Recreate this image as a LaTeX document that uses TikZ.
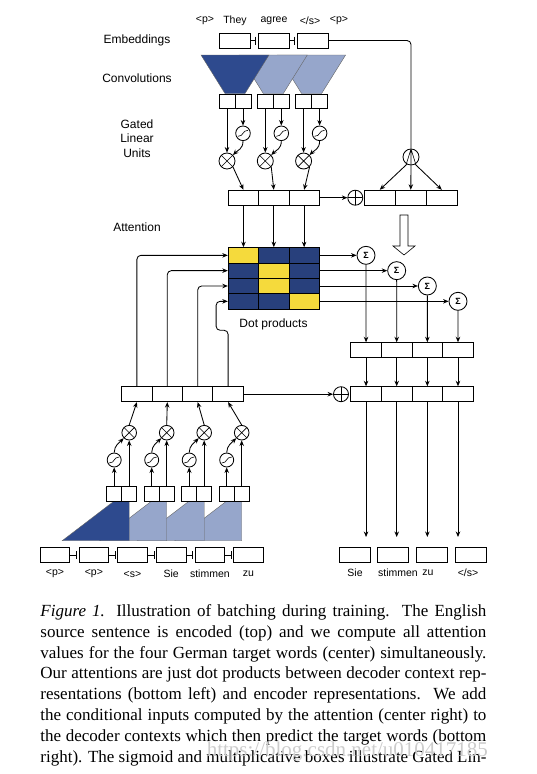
\documentclass[tikz,border=0pt]{standalone}
\usepackage{fontspec}
\setmainfont{Liberation Sans}
\newfontfamily\capfont{Liberation Serif}
\usetikzlibrary{arrows.meta}

\definecolor{convdark}{RGB}{46,74,142}
\definecolor{convlight}{RGB}{150,166,203}
\definecolor{dotblue}{RGB}{40,64,124}
\definecolor{dotyellow}{RGB}{245,218,60}

\begin{document}
\begin{tikzpicture}[x=1pt, y=-1pt, >={Stealth[length=5.5pt,width=4.5pt]}, line width=0.85pt,
  every node/.style={font=\fontsize{12}{14.5}\selectfont},
  tok/.style={font=\fontsize{10.5}{12}\selectfont},
  cell/.style={draw, fill=white, inner sep=0pt, minimum height=15pt},
  link/.style={-{Bar[width=8pt]}, shorten >=1.5pt},
  opc/.style={draw, circle, fill=white, inner sep=0pt, minimum size=15pt},
  mulc/.style={opc, path picture={\draw[line width=0.6pt] (path picture bounding box.north west) -- (path picture bounding box.south east) (path picture bounding box.north east) -- (path picture bounding box.south west);}},
  addc/.style={opc, path picture={\draw[line width=0.6pt] (path picture bounding box.north) -- (path picture bounding box.south) (path picture bounding box.west) -- (path picture bounding box.east);}},
  sigc/.style={opc, path picture={\draw[line width=0.6pt] ([shift={(-5pt,-3pt)}]path picture bounding box.center) .. controls +(6pt,0pt) and +(-6pt,0pt) .. ([shift={(5pt,3pt)}]path picture bounding box.center);}},
  fanc/.style={opc, path picture={\draw[line width=0.6pt] (path picture bounding box.north) -- ([xshift=-5pt]path picture bounding box.south) (path picture bounding box.north) -- (path picture bounding box.south) (path picture bounding box.north) -- ([xshift=5pt]path picture bounding box.south);}},
  sumc/.style={opc, minimum size=18pt, font=\fontsize{9}{10}\selectfont\bfseries}]
\fill[white] (0,0) rectangle (536,774);
\useasboundingbox (0,0) rectangle (536,774);

% labels on the left
\node (lemb) at (137,40.5) {Embeddings};
\node (lconv) at (137,78) {Convolutions};
\node[align=center] (lglu) at (137,138.5) {Gated\\Linear\\Units};
\node (latt) at (137,227) {Attention};

% source sentence
\foreach \x/\t [count=\i] in {205/{<p>},235/They,274/agree,310/{</s>},339/{<p>}}
  \node[tok] (stok\i) at (\x,21) {\t};
\foreach \i in {1,2,3}
  \node[cell, minimum width=31pt] (emb\i) at (234.5+39*\i-39,40.5) {};
\draw[link] (emb1.east) -- (emb2.west);
\draw[link] (emb2.east) -- (emb3.west);

% encoder convolutions
\foreach \c/\col in {311.6/convlight,273.3/convlight,235/convdark}
  \filldraw[fill=\col, draw=black!60, line width=0.4pt] (\c-34,55) -- (\c+34,55) -- (\c+10,93.5) -- (\c-10,93.5) -- cycle;
\foreach \k in {1,2,3}
  \node[cell, minimum width=30.4pt] (enc\k) at (228.3+30.35*\k-15.2,197.7) {};
\foreach \k/\c in {1/235,2/273.3,3/311.6} {
  \node[cell, minimum width=16pt, minimum height=14pt] (ga\k) at (\c-8,101) {};
  \node[cell, minimum width=16pt, minimum height=14pt] (gb\k) at (\c+8,101) {};
  \node[sigc, minimum size=14.6pt] (sg\k) at (\c+8,133.3) {};
  \node[mulc, minimum size=16pt] (mu\k) at (\c-8,161) {};
  \draw[->] (ga\k.south) -- (mu\k.north);
  \draw[->] (gb\k.south) -- (sg\k.north);
  \draw[->] (sg\k.south) .. controls +(0,8) and +(5,-5) .. (mu\k.north east);
  \draw[->] (mu\k.south east) -- (enc\k.north);
}

% encoder output plus embeddings
\node[addc] (add1) at (355.3,197.7) {};
\foreach \k in {1,2,3}
  \node[cell, minimum width=31pt] (eout\k) at (364.3+31*\k-15.5,197.7) {};
\node[fanc, minimum size=16pt] (fan) at (411,157) {};
\draw[rounded corners=4pt] (emb3.east) -| (fan.north);
\draw[->] (fan.240) -- (eout1.north);
\draw[->] (fan.south) -- (eout2.north);
\draw[->] (fan.300) -- (eout3.north);
\draw[->] (enc3.east) -- (add1.west);
\draw[fill=white, line width=0.6pt] (400,215) -- (408,215) -- (408,246) -- (415,246) -- (404,255) -- (393,246) -- (400,246) -- cycle;

% dot products
\foreach \r/\y in {1/1,2/2,3/2,4/3}
  \foreach \c in {1,2,3} {
    \ifnum\c=\y \def\hue{dotyellow}\else\def\hue{dotblue}\fi
    \node[cell, fill=\hue, minimum width=30.4pt, minimum height=15.4pt] (dp\r\c) at (228.3+30.35*\c-15.2,247.7+15.33*\r-7.7) {};
  }
\node (ldot) at (273.5,324) {Dot products};
\foreach \k in {1,2,3}
  \draw[->] (enc\k.south) -- (dp1\k.north);

% conditional inputs and decoder outputs
\foreach \r in {1,...,4} {
  \node[sumc] (sum\r) at (366+30.67*\r-30.67,247.7+15.33*\r-7.7) {Σ};
  \node[cell, minimum width=30.65pt] (cin\r) at (350.7+30.65*\r-15.3,350.2) {};
  \node[cell, minimum width=30.65pt] (hid\r) at (350.7+30.65*\r-15.3,394.2) {};
  \coordinate (tip\r) at (350.7+30.65*\r-15.3,537);
  \draw[->] (dp\r3.east) -- (sum\r.west);
  \draw[->] (sum\r.south) -- (cin\r.north);
  \draw[->] (cin\r.south) -- (hid\r.north);
  \draw[->] (hid\r.south) -- (tip\r);
}
\node[addc] (add2) at (341,394.2) {};

% decoder contexts
\foreach \k in {1,...,4}
  \node[cell, minimum width=30.4pt] (dctx\k) at (121.7+30.4*\k-15.2,394.2) {};
\draw[->] (dctx4.east) -- (add2.west);
\foreach \k in {1,2,3}
  \draw[->, rounded corners=4pt] (dctx\k.north) |- (dp\k1.west);
\draw[->, rounded corners=4pt] (dctx4.north) -- ++(0,-56) -- ++(-12,0) |- (dp41.west);

% decoder convolutions
\foreach \k/\col in {4/convlight,3/convlight,2/convlight,1/convdark}
  \filldraw[fill=\col, draw=black!60, line width=0.4pt] (91.7+37.5*\k-67,540.7) -- (91.7+37.5*\k-15,501) -- (91.7+37.5*\k,501) -- (91.7+37.5*\k,540.7) -- cycle;
\foreach \k in {1,...,4} {
  \node[cell, minimum width=15pt] (ha\k) at (76.7+37.5*\k,493.5) {};
  \node[cell, minimum width=15pt] (hb\k) at (91.7+37.5*\k,493.5) {};
  \node[sigc, minimum size=14pt] (bs\k) at (76.7+37.5*\k,460) {};
  \node[mulc, minimum size=14.6pt] (bm\k) at (91.7+37.5*\k,432.7) {};
  \draw[->] (ha\k.north) -- (bs\k.south);
  \draw[->] (hb\k.north) -- (bm\k.south);
  \draw[->] (bs\k.north) .. controls +(0,-7) and +(-4,4) .. (bm\k.south west);
  \draw[->] (bm\k.north) -- (dctx\k.south);
}

% target sentence
\foreach \x/\t [count=\i] in {55/{<p>},93.9/{<p>},132.5/{<s>},171.2/Sie,209.9/stimmen,248.5/zu} {
  \node[cell, minimum width=29.5pt] (trg\i) at (\x,555) {};
  \node[tok] (ttok\i) at (\x,574) {\t};
}
\foreach \i/\j in {1/2,2/3,3/4,4/5,5/6}
  \draw[link] (trg\i.east) -- (trg\j.west);
\foreach \x/\lx/\t [count=\i] in {355.2/355/Sie,393.3/398/stimmen,432.2/428/zu,470.7/468/{</s>}} {
  \node[cell, minimum width=31pt] (word\i) at (\x,554.5) {};
  \node[tok] (wtok\i) at (\lx,573) {\t};
}

% caption
\node[anchor=north west, inner sep=0pt, align=left, font=\capfont\fontsize{17}{20.86}\selectfont] (caption) at (40,604) {%
\hbox to 446pt{\textit{Figure 1.} Illustration of batching during training.\ \ The English}\\
\hbox to 446pt{source sentence is encoded (top) and we compute all attention}\\
\hbox to 446pt{values for the four German target words (center) simultaneously.}\\
\hbox to 446pt{Our attentions are just dot products between decoder context rep-}\\
\hbox to 446pt{resentations (bottom left) and encoder representations.\ \ We add}\\
\hbox to 446pt{the conditional inputs computed by the attention (center right) to}\\
\hbox to 446pt{the decoder contexts which then predict the target words (bottom}\\
\hbox to 446pt{right). The sigmoid and multiplicative boxes illustrate Gated Lin-}};
\node[anchor=west, text=gray!40, font=\capfont\fontsize{21}{24}\selectfont] (wmark) at (203,751) {https://blog.csdn.net/u010417185};
\end{tikzpicture}
\end{document}
